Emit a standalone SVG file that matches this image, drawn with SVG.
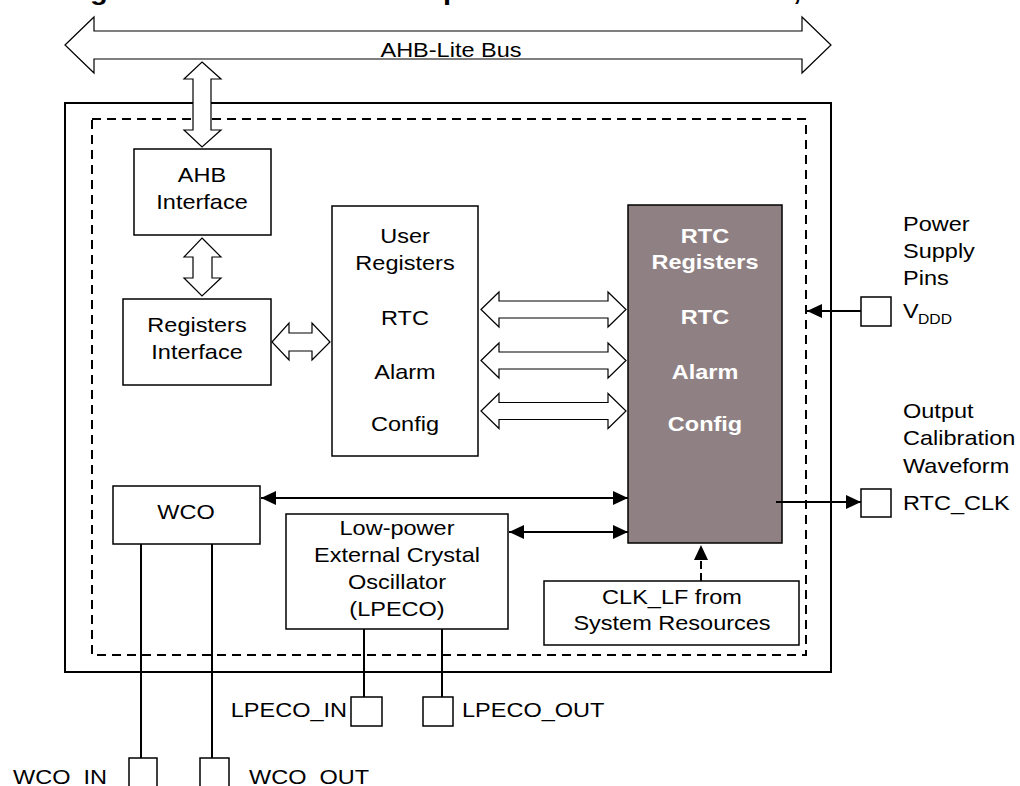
<svg xmlns="http://www.w3.org/2000/svg" width="1020" height="786" viewBox="0 0 1020 786">
<style>
text{font-family:"Liberation Sans",Arial,sans-serif;font-size:21px;fill:#000}
.c{text-anchor:middle}
.e{text-anchor:end}
.w{fill:#fff;font-weight:bold}
.box{fill:#fff;stroke:#000;stroke-width:1.5}
.pin{fill:#fff;stroke:#000;stroke-width:1.5}
.big{fill:#fff;stroke:#000;stroke-width:1.2;stroke-linejoin:miter}
.ln{fill:none;stroke:#000;stroke-width:2}
</style>
<defs>
<marker id="ah" markerUnits="userSpaceOnUse" markerWidth="16" markerHeight="15" refX="15" refY="7" orient="auto-start-reverse"><path d="M0,0 L15,7 L0,14 z" fill="#000"/></marker>
</defs>
<rect width="1020" height="786" fill="#fff"/>
<g id="title-fragment" font-weight="bold">
<text transform="translate(90 0) scale(1.12 1)" style="font-size:26px;font-weight:bold">g</text>
<text transform="translate(443 0) scale(1.12 1)" style="font-size:26px;font-weight:bold">p</text>
<text transform="translate(793 0) scale(1.12 1)" style="font-size:26px;font-weight:bold">,</text>
</g>
<g id="outer-block">
<rect x="65" y="103" width="766" height="569" fill="none" stroke="#000" stroke-width="2"/>
<rect x="92" y="119" width="714" height="536" fill="none" stroke="#000" stroke-width="2" stroke-dasharray="9,6"/>
</g>
<g id="ahb-interface">
<rect class="box" x="134" y="149" width="137" height="86"/>
<text class="c" transform="translate(202 182) scale(1.12 1)">AHB</text>
<text class="c" transform="translate(202 209) scale(1.12 1)">Interface</text>
</g>
<g id="registers-interface">
<rect class="box" x="123" y="299" width="148" height="86"/>
<text class="c" transform="translate(197 332) scale(1.12 1)">Registers</text>
<text class="c" transform="translate(197 359) scale(1.12 1)">Interface</text>
</g>
<g id="user-registers">
<rect class="box" x="332" y="206" width="146" height="250"/>
<text class="c" transform="translate(405 243) scale(1.12 1)">User</text>
<text class="c" transform="translate(405 270) scale(1.12 1)">Registers</text>
<text class="c" transform="translate(405 325) scale(1.12 1)">RTC</text>
<text class="c" transform="translate(405 379) scale(1.12 1)">Alarm</text>
<text class="c" transform="translate(405 431) scale(1.12 1)">Config</text>
</g>
<g id="rtc-registers">
<rect x="628" y="205" width="154" height="338" fill="#8f8183" stroke="#000" stroke-width="1.5"/>
<text class="c w" transform="translate(705 243) scale(1.12 1)">RTC</text>
<text class="c w" transform="translate(705 269) scale(1.12 1)">Registers</text>
<text class="c w" transform="translate(705 324) scale(1.12 1)">RTC</text>
<text class="c w" transform="translate(705 379) scale(1.12 1)">Alarm</text>
<text class="c w" transform="translate(705 431) scale(1.12 1)">Config</text>
</g>
<g id="wco">
<rect class="box" x="113" y="486" width="147" height="58"/>
<text class="c" transform="translate(186 519) scale(1.12 1)">WCO</text>
</g>
<g id="lpeco">
<rect class="box" x="286" y="514" width="222" height="115"/>
<text class="c" transform="translate(397 535) scale(1.12 1)">Low-power</text>
<text class="c" transform="translate(397 562) scale(1.12 1)">External Crystal</text>
<text class="c" transform="translate(397 589) scale(1.12 1)">Oscillator</text>
<text class="c" transform="translate(397 616) scale(1.12 1)">(LPECO)</text>
</g>
<g id="clk-lf">
<rect class="box" x="544" y="581" width="255" height="64"/>
<text class="c" transform="translate(672 604) scale(1.12 1)">CLK_LF from</text>
<text class="c" transform="translate(672 630) scale(1.12 1)">System Resources</text>
</g>
<g id="power-pins">
<text transform="translate(903 231) scale(1.12 1)">Power</text>
<text transform="translate(903 258) scale(1.12 1)">Supply</text>
<text transform="translate(903 285) scale(1.12 1)">Pins</text>
<rect class="pin" x="861" y="297" width="30" height="29"/>
<text transform="translate(903 318) scale(1.12 1)">V</text>
<text transform="translate(918 324) scale(1.12 1)" style="font-size:14px">DDD</text>
</g>
<g id="rtc-clk-pin">
<text transform="translate(903 418) scale(1.12 1)">Output</text>
<text transform="translate(903 445) scale(1.12 1)">Calibration</text>
<text transform="translate(903 473) scale(1.12 1)">Waveform</text>
<rect class="pin" x="861" y="489" width="30" height="28"/>
<text transform="translate(903 510) scale(1.12 1)">RTC_CLK</text>
</g>
<g id="lpeco-pins">
<rect class="pin" x="351" y="697" width="31" height="29"/>
<text class="e" transform="translate(347 717) scale(1.12 1)">LPECO_IN</text>
<rect class="pin" x="423" y="697" width="30" height="29"/>
<text transform="translate(462 717) scale(1.12 1)">LPECO_OUT</text>
</g>
<g id="wco-pins">
<rect class="pin" x="129" y="758" width="28" height="40"/>
<text transform="translate(13 784) scale(1.12 1)">WCO_IN</text>
<rect class="pin" x="200" y="758" width="29" height="40"/>
<text transform="translate(249 784) scale(1.12 1)">WCO_OUT</text>
</g>
<g id="connectors">
<polygon class="big" points="65,45 94,17 94,31 802,31 802,17 831,45 802,73 802,59 94,59 94,73"/>
<polygon class="big" points="202,62 221,79 211,79 211,130 221,130 202,147 184,130 193,130 193,79 184,79"/>
<polygon class="big" points="202,238 221,257 212,257 212,278 221,278 202,296 184,278 193,278 193,257 184,257"/>
<polygon class="big" points="272,342 289,323 289,333 312,333 312,323 330,342 312,360 312,351 289,351 289,360"/>
<polygon class="big" points="481,309.5 499,292 499,301 608,301 608,292 626,309.5 608,327 608,318 499,318 499,327"/>
<polygon class="big" points="481,360.5 499,343 499,352 608,352 608,343 626,360.5 608,378 608,369 499,369 499,378"/>
<polygon class="big" points="481,411 499,393.5 499,402.5 608,402.5 608,393.5 626,411 608,428.5 608,419.5 499,419.5 499,428.5"/>
<line class="ln" x1="261" y1="498" x2="628" y2="498" marker-start="url(#ah)" marker-end="url(#ah)"/>
<line class="ln" x1="509" y1="532" x2="628" y2="532" marker-start="url(#ah)" marker-end="url(#ah)"/>
<line class="ln" x1="861" y1="311" x2="807" y2="311" marker-end="url(#ah)"/>
<line class="ln" x1="776" y1="502" x2="861" y2="502" marker-end="url(#ah)"/>
<line class="ln" x1="701" y1="581" x2="701" y2="545" stroke-dasharray="8,4" marker-end="url(#ah)"/>
<line class="ln" x1="141" y1="544" x2="141" y2="758"/>
<line class="ln" x1="212" y1="544" x2="212" y2="758"/>
<line class="ln" x1="364" y1="629" x2="364" y2="697"/>
<line class="ln" x1="442" y1="629" x2="442" y2="697"/>
</g>
<text class="c" transform="translate(451 57) scale(1.12 1)">AHB-Lite Bus</text>
</svg>
